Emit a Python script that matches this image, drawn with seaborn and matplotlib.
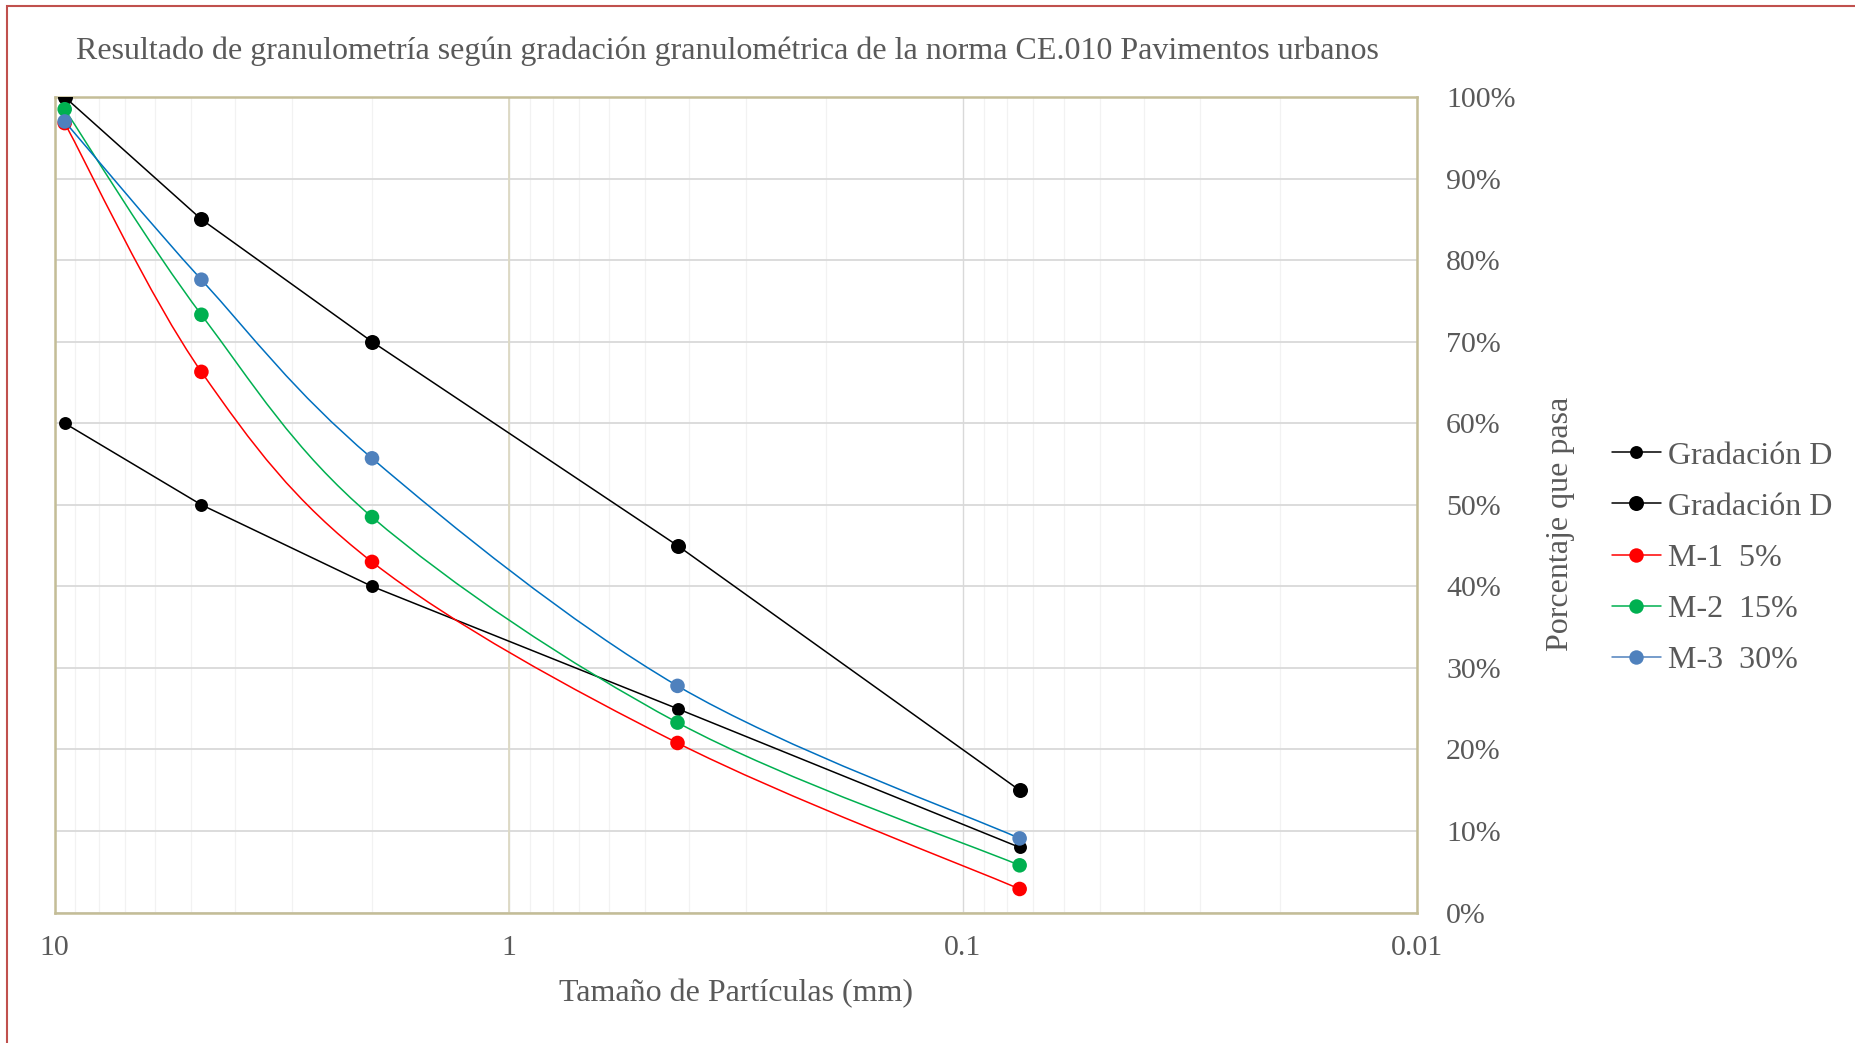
import numpy as np
import pandas as pd
import matplotlib
matplotlib.use('Agg')
import matplotlib.pyplot as plt
import seaborn as sns
from matplotlib.path import Path
from matplotlib.patches import PathPatch, Rectangle
from matplotlib.lines import Line2D
from matplotlib.ticker import FixedLocator, FuncFormatter, LogLocator

# tamices (mm) y porcentaje que pasa
tamiz = [9.5, 4.75, 2.0, 0.425, 0.075]
grad_d_inf = [60, 50, 40, 25, 8]
grad_d_sup = [100, 85, 70, 45, 15]
m1 = [96.8, 66.3, 43.0, 20.8, 2.9]
m2 = [98.5, 73.3, 48.5, 23.3, 5.8]
m3 = [97.0, 77.6, 55.7, 27.8, 9.1]

labels = ['Gradación D', 'Gradación D', 'M-1  5%', 'M-2  15%', 'M-3  30%']
x_ticks = [10, 1, 0.1, 0.01]
y_ticks = list(range(0, 101, 10))

sns.set_style('white')
plt.rcParams['font.family'] = ['Liberation Serif', 'DejaVu Serif']
txt = '#595959'
tan = '#c4bd97'


def smooth_path(xs, ys):
    # curva suavizada tipo Excel (Catmull-Rom en escala log)
    pts = np.column_stack([np.log10(xs), np.asarray(ys, dtype=float)])
    n = len(pts)
    verts = [pts[0]]
    codes = [Path.MOVETO]
    for i in range(n - 1):
        p0 = pts[max(i - 1, 0)]
        p1 = pts[i]
        p2 = pts[i + 1]
        p3 = pts[min(i + 2, n - 1)]
        verts += [p1 + (p2 - p0) / 6, p2 - (p3 - p1) / 6, p2]
        codes += [Path.CURVE4] * 3
    verts = np.array(verts)
    verts[:, 0] = 10 ** verts[:, 0]
    return Path(verts, codes)


fig = plt.figure(figsize=(18.56, 10.43), dpi=100)
ax = fig.add_axes([0.0294, 0.125, 0.7341, 0.782])

df = pd.DataFrame({'tamiz': tamiz, 'inf': grad_d_inf, 'sup': grad_d_sup,
                   'm1': m1, 'm2': m2, 'm3': m3})

sns.lineplot(data=df, x='tamiz', y='inf', ax=ax, color='black', lw=1.1,
             marker='o', markersize=9.3, markeredgewidth=0, zorder=3, legend=False)
sns.lineplot(data=df, x='tamiz', y='sup', ax=ax, color='black', lw=1.1,
             marker='o', markersize=10.8, markeredgewidth=0, zorder=3, legend=False)

series = [('m1', '#ff0000', '#ff0000'), ('m2', '#00b050', '#00b050'), ('m3', '#0070c0', '#4f81bd')]
for i, (col, lc, mc) in enumerate(series):
    ax.add_patch(PathPatch(smooth_path(df['tamiz'], df[col]), facecolor='none',
                           edgecolor=lc, lw=1.1, zorder=4 + i))
    sns.scatterplot(data=df, x='tamiz', y=col, ax=ax, color=mc, s=110,
                    edgecolor='none', zorder=4.5 + i, legend=False)

ax.set_xscale('log')
ax.set_xlim(10, 0.01)
ax.set_ylim(0, 100)

ax.xaxis.set_major_locator(FixedLocator(x_ticks))
ax.xaxis.set_major_formatter(FuncFormatter(lambda v, p: f'{v:g}'))
ax.xaxis.set_minor_locator(LogLocator(base=10, subs=np.arange(2, 10)))
ax.xaxis.set_minor_formatter(FuncFormatter(lambda v, p: ''))
ax.set_yticks(y_ticks)
ax.yaxis.set_major_formatter(FuncFormatter(lambda v, p: f'{v:.0f}%'))
ax.yaxis.tick_right()

ax.grid(which='major', axis='y', color='#d9d9d9', lw=1.3, zorder=0)
ax.grid(which='major', axis='x', color='#d9d9d9', lw=1.0, zorder=0)
ax.grid(which='minor', axis='x', color='#f2f2f2', lw=0.9, zorder=0)
ax.axvline(1, color='#ddd9c3', lw=1.3, zorder=1)
ax.set_axisbelow(True)

ax.tick_params(which='both', length=0)
ax.tick_params(axis='y', pad=21, labelsize=21.5, labelcolor=txt)
ax.tick_params(axis='x', pad=16, labelsize=21.5, labelcolor=txt)
for s in ax.spines.values():
    s.set_color(tan)
    s.set_linewidth(1.8)

ax.set_xlabel('Tamaño de Partículas (mm)', fontsize=23, color=txt, va='center')
ax.xaxis.set_label_coords(0.5, -0.0998)
ax.set_ylabel('Porcentaje que pasa', fontsize=23, color=txt, va='center', rotation=90)
ax.yaxis.set_label_position('right')
ax.yaxis.set_label_coords(1.0947, 0.4765)

ax.set_title('Resultado de granulometría según gradación granulométrica de la norma CE.010 Pavimentos urbanos',
             fontsize=23, color=txt, x=0.4936, y=1.056, va='center', pad=0)

handles = [
    Line2D([], [], color='black', lw=1.1, marker='o', markersize=9.3, markeredgewidth=0),
    Line2D([], [], color='black', lw=1.1, marker='o', markersize=10.8, markeredgewidth=0),
    Line2D([], [], color='#ff0000', lw=1.1, marker='o', markersize=10.4, markeredgewidth=0),
    Line2D([], [], color='#00b050', lw=1.1, marker='o', markersize=10.4, markeredgewidth=0),
    Line2D([], [], color='#4f81bd', lw=1.1, marker='o', markersize=10.4, markeredgewidth=0,
           markerfacecolor='#4f81bd'),
]
leg = fig.legend(handles, labels, loc='center left', bbox_to_anchor=(0.8685, 0.465),
                 frameon=False, fontsize=23, handlelength=1.53, handletextpad=0.22,
                 labelspacing=0.68, borderpad=0, borderaxespad=0)
for t in leg.get_texts():
    t.set_color(txt)

fig.patches.append(Rectangle((0.0038, -0.01), 1.1, 0.9942 + 0.01, transform=fig.transFigure,
                             fill=False, edgecolor='#c0504d', lw=1.5))

fig.savefig('out.png', dpi=100)
